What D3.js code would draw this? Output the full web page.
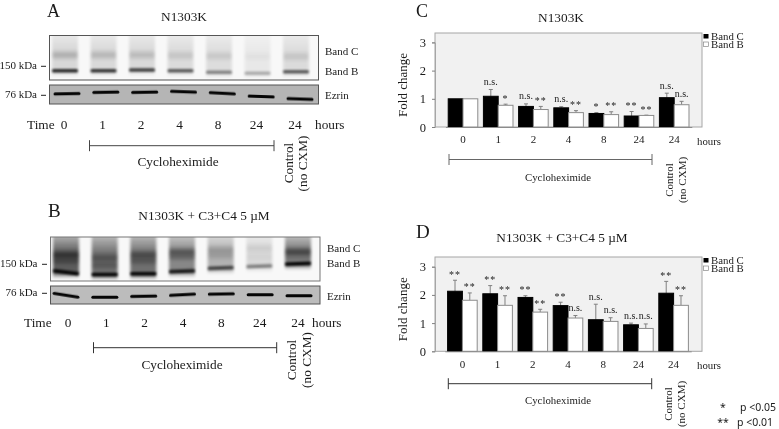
<!DOCTYPE html>
<html>
<head>
<meta charset="utf-8">
<script src="https://cdn.jsdelivr.net/npm/d3@7"></script>
<style>
  html, body { margin: 0; padding: 0; background: #fff; }
  svg { display: block; filter: blur(0.3px); }
  text { font-family: "Liberation Serif", serif; fill: #1a1a1a; }
</style>
</head>
<body>
<div id="chart"></div>
<script>
// categories
var hours = ['0', '1', '2', '4', '8', '24', '24'];
var fcTicks = [0, 1, 2, 3];

// C: N1303K fold change
var c_bandC = [1, 1.09, 0.73, 0.68, 0.48, 0.39, 1.04];
var c_bandB = [1, 0.77, 0.62, 0.51, 0.44, 0.41, 0.79];
var c_errC = [0, 0.24, 0.09, 0.04, 0.03, 0.16, 0.16];
var c_errB = [0, 0.04, 0.11, 0.07, 0.1, 0.01, 0.12];
var c_sigC = ['', 'n.s.', 'n.s.', 'n.s.', '*', '**', 'n.s.'];
var c_sigB = ['', '*', '**', '**', '**', '**', 'n.s.'];

// D: N1303K + C3+C4 fold change
var d_bandC = [2.13, 2.04, 1.91, 1.62, 1.12, 0.94, 2.06];
var d_bandB = [1.81, 1.63, 1.39, 1.18, 1.06, 0.81, 1.63];
var d_errC = [0.39, 0.29, 0.06, 0.12, 0.55, 0.06, 0.42];
var d_errB = [0.26, 0.34, 0.1, 0.09, 0.13, 0.16, 0.34];
var d_sigC = ['**', '**', '**', '**', 'n.s.', 'n.s.', '**'];
var d_sigB = ['**', '**', '**', 'n.s.', 'n.s.', 'n.s.', '**'];

// A: blot lanes, band strength 0-1 and how far down the gel (0-1)
var a_smear = [0.13, 0.12, 0.12, 0.11, 0.1, 0.06, 0.11];
var a_upper = [0.2, 0.17, 0.15, 0.11, 0.1, 0.03, 0.11];
var a_upperPos = [0.44, 0.44, 0.44, 0.45, 0.46, 0.47, 0.47];
var a_lower = [0.8, 0.75, 0.7, 0.58, 0.4, 0.26, 0.58];
var a_lowerPos = [0.79, 0.79, 0.775, 0.79, 0.825, 0.85, 0.815];
var a_ezrinPos = [0.46, 0.38, 0.38, 0.35, 0.44, 0.61, 0.74];
var a_ezrinTilt = [-1, -1, -1, 2, 3, 2, 2];

// B: same for the treated blot
var b_smear = [0.62, 0.55, 0.55, 0.45, 0.28, 0.12, 0.48];
var b_upper = [0.5, 0.3, 0.38, 0.4, 0.18, 0.06, 0.5];
var b_upperPos = [0.41, 0.48, 0.41, 0.34, 0.3, 0.25, 0.34];
var b_mid = [0.35, 0.3, 0.32, 0.3, 0.15, 0.03, 0.15];
var b_midPos = [0.545, 0.64, 0.545, 0.455, 0.43, 0.45, 0.48];
var b_lower = [1, 0.95, 0.95, 0.85, 0.66, 0.42, 1];
var b_lowerPos = [0.8, 0.85, 0.835, 0.78, 0.705, 0.665, 0.61];
var b_lowerTilt = [7, 0, 0, -2, -2, -2, -2];
var b_ezrinPos = [0.52, 0.63, 0.57, 0.48, 0.44, 0.48, 0.54];
var b_ezrinTilt = [9, 0, -1, -3, -1, 0, 0];

var svg = d3.select('#chart').append('svg')
  .attr('width', 779)
  .attr('height', 429);

var defs = svg.append('defs');
defs.append('filter').attr('id', 'soft').attr('x', '-20%').attr('y', '-150%').attr('width', '140%').attr('height', '400%')
  .append('feGaussianBlur').attr('stdDeviation', '1.2 1');
defs.append('filter').attr('id', 'softer').attr('x', '-20%').attr('y', '-150%').attr('width', '140%').attr('height', '400%')
  .append('feGaussianBlur').attr('stdDeviation', '1.5 1.9');
defs.append('filter').attr('id', 'smear').attr('x', '-20%').attr('y', '-20%').attr('width', '140%').attr('height', '140%')
  .append('feGaussianBlur').attr('stdDeviation', '1.8 2');
var fade = defs.append('linearGradient').attr('id', 'fade').attr('x1', 0).attr('x2', 0).attr('y1', 0).attr('y2', 1);
fade.append('stop').attr('offset', '0%').attr('stop-color', '#000').attr('stop-opacity', 0.35);
fade.append('stop').attr('offset', '45%').attr('stop-color', '#000').attr('stop-opacity', 1);
fade.append('stop').attr('offset', '100%').attr('stop-color', '#000').attr('stop-opacity', 1);
defs.append('clipPath').attr('id', 'clipA1').append('rect').attr('x', 50).attr('y', 36).attr('width', 268).attr('height', 44);
defs.append('clipPath').attr('id', 'clipA2').append('rect').attr('x', 50).attr('y', 85).attr('width', 268).attr('height', 19);
defs.append('clipPath').attr('id', 'clipB1').append('rect').attr('x', 51).attr('y', 237).attr('width', 269).attr('height', 44);
defs.append('clipPath').attr('id', 'clipB2').append('rect').attr('x', 51).attr('y', 286).attr('width', 269).attr('height', 18);

function label(x, y, str, size, anchor) {
  return svg.append('text')
    .attr('x', x).attr('y', y)
    .attr('font-size', size)
    .attr('text-anchor', anchor || 'start')
    .text(str);
}

function bandMark(g, x, y, w, h, strength, tilt, filter) {
  g.append('rect')
    .attr('x', x - w / 2).attr('y', y - h / 2)
    .attr('width', w).attr('height', h)
    .attr('rx', 1.5)
    .attr('fill', '#000')
    .attr('opacity', strength)
    .attr('filter', 'url(#' + (filter || 'soft') + ')')
    .attr('transform', 'rotate(' + (tilt || 0) + ' ' + x + ' ' + y + ')');
}

// main blot: lanes + bands
function drawBlot(o) {
  var lane = d3.scalePoint().domain(d3.range(7)).range(o.laneRange);
  var gel = d3.scaleLinear().domain([0, 1]).range([o.top, o.bottom]);
  var g = svg.append('g');
  g.append('rect').attr('x', o.left).attr('y', o.top)
    .attr('width', o.right - o.left).attr('height', o.bottom - o.top).attr('fill', '#f8f8f8');
  var inner = g.append('g').attr('clip-path', 'url(#' + o.clip + ')');
  d3.range(7).forEach(function(i) {
    inner.append('g').attr('opacity', o.smear[i]).append('rect')
      .attr('x', lane(i) - 13).attr('y', gel(-0.1))
      .attr('width', 26).attr('height', gel(o.lowerPos[i] + 0.08) - gel(-0.1))
      .attr('fill', 'url(#fade)')
      .attr('filter', 'url(#smear)');
    bandMark(inner, lane(i), gel(o.upperPos[i]), 25, 6, o.upper[i], 0, 'softer');
    if (o.mid) bandMark(inner, lane(i), gel(o.midPos[i]), 25, 4, o.mid[i], 0, 'softer');
    bandMark(inner, lane(i), gel(o.lowerPos[i]), 26, 3.5, o.lower[i], o.lowerTilt ? o.lowerTilt[i] : 0);
  });
  g.append('rect').attr('x', o.left).attr('y', o.top)
    .attr('width', o.right - o.left).attr('height', o.bottom - o.top)
    .attr('fill', 'none').attr('stroke', o.border).attr('stroke-width', 1);
}

function drawEzrin(o) {
  var lane = d3.scalePoint().domain(d3.range(7)).range(o.laneRange);
  var gel = d3.scaleLinear().domain([0, 1]).range([o.top, o.bottom]);
  var g = svg.append('g');
  g.append('rect').attr('x', o.left).attr('y', o.top)
    .attr('width', o.right - o.left).attr('height', o.bottom - o.top).attr('fill', o.fill);
  var inner = g.append('g').attr('clip-path', 'url(#' + o.clip + ')');
  d3.range(7).forEach(function(i) {
    inner.append('rect')
      .attr('x', lane(i) - 13.5).attr('y', gel(o.pos[i]) - 1.5)
      .attr('width', 27).attr('height', 3).attr('rx', 1.5)
      .attr('fill', '#050505')
      .attr('transform', 'rotate(' + o.tilt[i] + ' ' + lane(i) + ' ' + gel(o.pos[i]) + ')')
      .attr('style', 'filter: blur(0.6px)');
  });
  g.append('rect').attr('x', o.left).attr('y', o.top)
    .attr('width', o.right - o.left).attr('height', o.bottom - o.top)
    .attr('fill', 'none').attr('stroke', o.border).attr('stroke-width', 1);
}

function bracket(x0, x1, y, stroke) {
  var g = svg.append('g').attr('stroke', stroke).attr('stroke-width', 1).attr('fill', 'none');
  g.append('line').attr('x1', x0).attr('x2', x1).attr('y1', y).attr('y2', y);
  g.append('line').attr('x1', x0).attr('x2', x0).attr('y1', y - 5.5).attr('y2', y + 5.5);
  g.append('line').attr('x1', x1).attr('x2', x1).attr('y1', y - 5.5).attr('y2', y + 5.5);
}

function rotated(x, y, str, size) {
  svg.append('text')
    .attr('transform', 'translate(' + x + ',' + y + ') rotate(-90)')
    .attr('text-anchor', 'middle')
    .attr('font-size', size)
    .text(str);
}

function kda(x, y, str, dashX) {
  label(x, y, str, 11, 'end');
  svg.append('line').attr('x1', dashX).attr('x2', dashX + 5)
    .attr('y1', y - 2.7).attr('y2', y - 2.7).attr('stroke', '#222').attr('stroke-width', 1);
}

// ______
// Blot A
// ______
label(47, 16.5, 'A', 18);
label(184, 21, 'N1303K', 13.3, 'middle');
drawBlot({
  left: 49.5, right: 318.5, top: 35.5, bottom: 80, laneRange: [65, 296], clip: 'clipA1', border: '#555',
  smear: a_smear, upper: a_upper, upperPos: a_upperPos, lower: a_lower, lowerPos: a_lowerPos
});
drawEzrin({
  left: 49.5, right: 318.5, top: 85, bottom: 104, laneRange: [67, 300], clip: 'clipA2', border: '#555', fill: '#b5b5b5',
  pos: a_ezrinPos, tilt: a_ezrinTilt
});
label(325, 55, 'Band C', 11);
label(325, 74.5, 'Band B', 11);
label(325, 99, 'Ezrin', 11);
kda(37, 69, '150 kDa', 41);
kda(37, 98, '76 kDa', 41);
label(27, 129, 'Time', 13.3);
var timeA = d3.scalePoint().domain(d3.range(7)).range([64, 295]);
hours.forEach(function(h, i) { label(timeA(i), 129, h, 13.3, 'middle'); });
label(315, 129, 'hours', 13.3);
bracket(89.5, 274, 145.7, '#444');
label(178, 166, 'Cycloheximide', 13.3, 'middle');
rotated(292.5, 163, 'Control', 13.3);
rotated(307, 163.5, '(no CXM)', 13.3);

// ______
// Blot B
// ______
label(48, 217, 'B', 19);
label(204, 220, 'N1303K + C3+C4 5 µM', 13.3, 'middle');
drawBlot({
  left: 50.5, right: 320, top: 237, bottom: 281, laneRange: [66, 298], clip: 'clipB1', border: '#777',
  smear: b_smear, upper: b_upper, upperPos: b_upperPos, mid: b_mid, midPos: b_midPos,
  lower: b_lower, lowerPos: b_lowerPos, lowerTilt: b_lowerTilt
});
drawEzrin({
  left: 50.5, right: 320, top: 286, bottom: 304, laneRange: [66, 299], clip: 'clipB2', border: '#555', fill: '#bcbcbc',
  pos: b_ezrinPos, tilt: b_ezrinTilt
});
label(327, 252, 'Band C', 11);
label(327, 267, 'Band B', 11);
label(327, 300, 'Ezrin', 11);
kda(37.5, 267, '150 kDa', 42);
kda(37.5, 296, '76 kDa', 42);
label(24, 327, 'Time', 13.3);
var timeB = d3.scalePoint().domain(d3.range(7)).range([68, 298]);
hours.forEach(function(h, i) { label(timeB(i), 327, h, 13.3, 'middle'); });
label(312, 327, 'hours', 13.3);
bracket(93.5, 276.7, 347.7, '#333');
label(182, 369, 'Cycloheximide', 13.3, 'middle');
rotated(295.5, 360, 'Control', 13.3);
rotated(311, 360, '(no CXM)', 13.3);

// ____________
// Fold charts
// ____________
function drawBars(o) {
  var x = d3.scaleBand().domain(d3.range(7)).range([o.xStart, o.xStart + 246.4]);
  var inner = d3.scaleBand().domain(['C', 'B']).range([0, x.bandwidth()]).paddingOuter(0.19);
  var y = d3.scaleLinear().domain([0, 3]).range([o.y0, o.y0 - 84.6]);

  svg.append('rect')
    .attr('x', 435).attr('y', o.top)
    .attr('width', 267).attr('height', o.y0 - o.top)
    .attr('fill', '#f1f1f1').attr('stroke', '#a6a6a6').attr('stroke-width', 1);

  var rows = hours.map(function(h, i) {
    return [
      { i: i, key: 'C', v: o.bandC[i], e: o.errC[i], sig: o.sigC[i] },
      { i: i, key: 'B', v: o.bandB[i], e: o.errB[i], sig: o.sigB[i] }
    ];
  }).reduce(function(a, b) { return a.concat(b); }, []);

  var barX = function(d) { return x(d.i) + inner(d.key); };
  var midX = function(d) { return barX(d) + inner.bandwidth() / 2; };

  // error bars go behind the bars
  var errs = svg.append('g').attr('stroke', '#808080').attr('stroke-width', 1);
  errs.selectAll('line.stem').data(rows.filter(function(d) { return d.e > 0; })).enter().append('line')
    .attr('class', 'stem')
    .attr('x1', midX).attr('x2', midX)
    .attr('y1', function(d) { return y(d.v); })
    .attr('y2', function(d) { return y(d.v + d.e); });
  errs.selectAll('line.cap').data(rows.filter(function(d) { return d.e > 0; })).enter().append('line')
    .attr('class', 'cap')
    .attr('x1', function(d) { return midX(d) - 2; })
    .attr('x2', function(d) { return midX(d) + 2; })
    .attr('y1', function(d) { return y(d.v + d.e); })
    .attr('y2', function(d) { return y(d.v + d.e); });

  svg.append('g').selectAll('rect').data(rows).enter().append('rect')
    .attr('x', barX)
    .attr('y', function(d) { return y(d.v); })
    .attr('width', inner.bandwidth())
    .attr('height', function(d) { return y(0) - y(d.v); })
    .attr('fill', function(d) { return d.key === 'C' ? '#000' : '#fff'; })
    .attr('stroke', function(d) { return d.key === 'C' ? '#000' : '#8c8c8c'; })
    .attr('stroke-width', 1);

  // significance marks
  svg.append('g').selectAll('text').data(rows.filter(function(d) { return d.sig; })).enter().append('text')
    .attr('x', midX)
    .attr('y', function(d) { return y(d.v + d.e) - (d.sig === 'n.s.' ? 4.5 : 2.5); })
    .attr('text-anchor', 'middle')
    .attr('font-size', 10)
    .attr('letter-spacing', function(d) { return d.sig === 'n.s.' ? 0 : 1; })
    .text(function(d) { return d.sig; });

  // axes
  var yAxis = svg.append('g').attr('transform', 'translate(435,0)')
    .call(d3.axisLeft(y).tickValues(fcTicks).tickFormat(d3.format('d')).tickSize(3).tickPadding(6));
  yAxis.select('.domain').attr('stroke', '#a6a6a6');
  yAxis.selectAll('.tick line').attr('stroke', '#808080');
  yAxis.selectAll('text').attr('font-size', 12.5).attr('font-family', '"Liberation Serif", serif');

  var xAxis = svg.append('g').attr('transform', 'translate(0,' + o.y0 + ')')
    .call(d3.axisBottom(x).tickFormat(function(i) { return hours[i]; }).tickSize(0).tickPadding(8.5));
  xAxis.select('.domain').attr('stroke', '#8c8c8c');
  xAxis.selectAll('text').attr('font-size', 11).attr('font-family', '"Liberation Serif", serif');

  label(697, o.y0 + 18, 'hours', 10.8);
  svg.append('text')
    .attr('transform', 'translate(407,' + (o.y0 - 42) + ') rotate(-90)')
    .attr('text-anchor', 'middle').attr('font-size', 13).text('Fold change');

  // legend
  svg.append('rect').attr('x', o.legendX).attr('y', o.top + 1).attr('width', 5).attr('height', 4.5).attr('fill', '#000');
  svg.append('rect').attr('x', o.legendX).attr('y', o.top + 9).attr('width', 5).attr('height', 4.5)
    .attr('fill', '#fff').attr('stroke', '#888').attr('stroke-width', 0.7);
  label(711, o.top + 6.5, 'Band C', 10.8);
  label(711, o.top + 14.5, 'Band B', 10.8);
}

label(416, 16.5, 'C', 18);
label(561, 22, 'N1303K', 13.3, 'middle');
drawBars({
  xStart: 445.4, y0: 127, top: 33, legendX: 703.5,
  bandC: c_bandC, bandB: c_bandB, errC: c_errC, errB: c_errB, sigC: c_sigC, sigB: c_sigB
});
bracket(449, 652, 159.5, '#666');
label(558, 181, 'Cycloheximide', 10.8, 'middle');
rotated(672.5, 180, 'Control', 11);
rotated(686, 180, '(no CXM)', 11);

label(416, 238, 'D', 19);
label(562, 242, 'N1303K + C3+C4 5 µM', 13.3, 'middle');
drawBars({
  xStart: 444.8, y0: 351.3, top: 257, legendX: 703.5,
  bandC: d_bandC, bandB: d_bandB, errC: d_errC, errB: d_errB, sigC: d_sigC, sigB: d_sigB
});
bracket(448.3, 651.7, 383.7, '#333');
label(558, 404, 'Cycloheximide', 10.8, 'middle');
rotated(672, 404, 'Control', 11);
rotated(685, 404, '(no CXM)', 11);

// p value key
[['*', 723, 411, 'middle'], ['p <0.05', 740, 411, 'start'], ['**', 723, 426, 'middle'], ['p <0.01', 737, 426, 'start']]
  .forEach(function(r) {
    svg.append('text').attr('x', r[1]).attr('y', r[2]).attr('text-anchor', r[3])
      .attr('font-size', 10.5).style('font-family', '"Noto Sans", sans-serif').text(r[0]);
  });
</script>
</body>
</html>
